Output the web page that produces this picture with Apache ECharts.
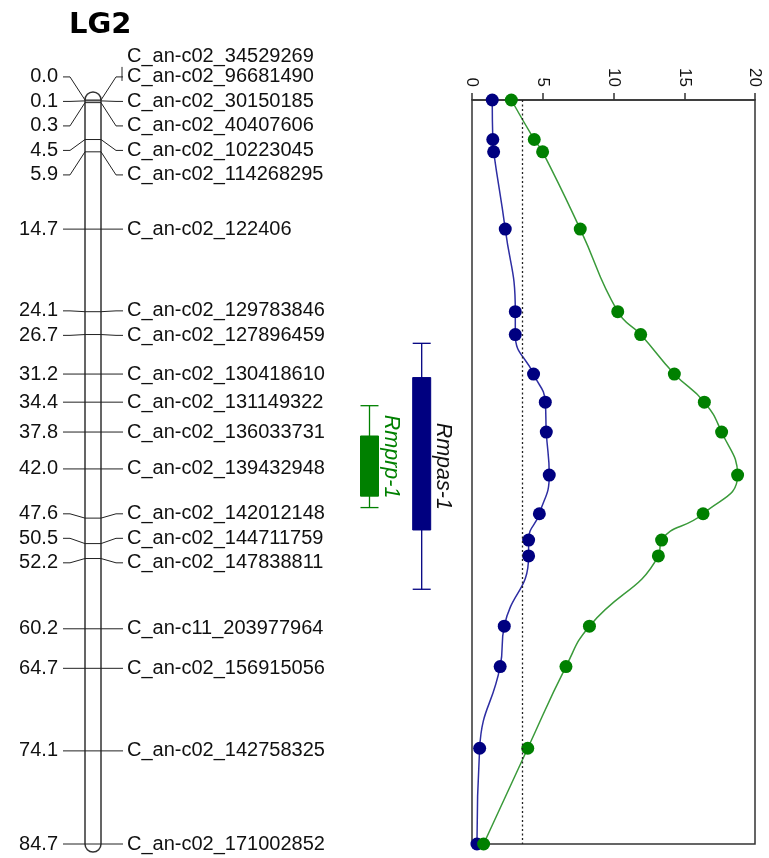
<!DOCTYPE html>
<html><head><meta charset="utf-8">
<script src="https://cdn.jsdelivr.net/npm/echarts@6/dist/echarts.min.js"></script>
<style>html,body{margin:0;padding:0;background:#fff}#c{width:769px;height:858px}</style>
</head><body><div id="c"></div>
<script>
// ---------- data ----------
const lgName = 'LG2';
const markerPos = [0.0, 0.0, 0.1, 0.3, 4.5, 5.9, 14.7, 24.1, 26.7, 31.2, 34.4, 37.8, 42.0, 47.6, 50.5, 52.2, 60.2, 64.7, 74.1, 84.7];
const markerNames = ['C_an-c02_34529269','C_an-c02_96681490','C_an-c02_30150185','C_an-c02_40407606','C_an-c02_10223045','C_an-c02_114268295','C_an-c02_122406','C_an-c02_129783846','C_an-c02_127896459','C_an-c02_130418610','C_an-c02_131149322','C_an-c02_136033731','C_an-c02_139432948','C_an-c02_142012148','C_an-c02_144711759','C_an-c02_147838811','C_an-c11_203977964','C_an-c02_156915056','C_an-c02_142758325','C_an-c02_171002852'];
const lodPos   = [0, 4.5, 5.9, 14.7, 24.1, 26.7, 31.2, 34.4, 37.8, 42.7, 47.1, 50.1, 51.9, 59.9, 64.5, 73.8, 84.7];
const lodRmpas = [1.43, 1.47, 1.53, 2.35, 3.06, 3.06, 4.35, 5.18, 5.25, 5.46, 4.76, 4.00, 4.00, 2.28, 1.99, 0.54, 0.35];
const lodRmprp = [2.78, 4.40, 4.99, 7.65, 10.30, 11.92, 14.30, 16.42, 17.64, 18.77, 16.33, 13.40, 13.17, 8.30, 6.64, 3.94, 0.82];
const lodThreshold = 3.55;
const lodTicks = [0, 5, 10, 15, 20];
const qtlNames  = ['Rmprp-1', 'Rmpas-1'];
const qtlCiLow  = [34.8, 27.7];
const qtlBoxLow = [38.25, 31.6];
const qtlBoxHigh= [45.1, 48.95];
const qtlCiHigh = [46.4, 55.7];

// ---------- styles / layout ----------
const qtlFill = ['#008000', '#000080'];
const qtlText = ['#008000', '#111111'];
const qtlColX = [369.5, 421.7];
const FONT = '"Liberation Sans", Arial, sans-serif';
const mapMin = Math.min(...markerPos), mapMax = Math.max(...markerPos);
const pxPerCM = (844 - 100) / (mapMax - mapMin);
const GAP = 24.5 / pxPerCM;

// group markers by position
const groups = [];
markerPos.forEach((p, i) => {
  const last = groups[groups.length - 1];
  if (last && last.pos === p) last.names.push(markerNames[i]);
  else groups.push({pos: p, names: [markerNames[i]]});
});
function spread(pos, gap) {
  const cl = [];
  for (const p of pos) {
    cl.push({orig: [p], start: p});
    while (cl.length > 1) {
      const b = cl[cl.length - 1], a = cl[cl.length - 2];
      const aEnd = a.start + (a.orig.length - 1) * gap;
      if (b.start < aEnd + gap - 1e-9) {
        const orig = a.orig.concat(b.orig);
        const center = (orig[0] + orig[orig.length - 1]) / 2;
        cl.pop(); cl.pop();
        cl.push({orig, start: center - (orig.length - 1) * gap / 2});
      } else break;
    }
  }
  const out = [];
  cl.forEach(c => c.orig.forEach((_, k) => out.push(c.start + k * gap)));
  return out;
}
const labelPos = spread(groups.map(g => g.pos), GAP);
groups.forEach((g, i) => g.labelPos = labelPos[i]);

const chart = echarts.init(document.getElementById('c'), null, {renderer: 'canvas'});
const option = {
  animation: false,
  backgroundColor: '#fff',
  title: {
    text: lgName, left: 64, top: 6,
    textStyle: {fontFamily: '"DejaVu Sans", Verdana, sans-serif', fontWeight: 'bold', fontSize: 29, color: '#000'}
  },
  grid: [
    {left: 472, right: 14, top: 100, bottom: 14, show: true, borderColor: '#333', borderWidth: 1.5, backgroundColor: 'transparent'},
    {left: 0, width: 470, top: 100, bottom: 14, show: false}
  ],
  xAxis: [
    {type: 'value', gridIndex: 0, position: 'top', min: lodTicks[0], max: lodTicks[lodTicks.length - 1], interval: 5,
     axisLine: {show: true, lineStyle: {color: '#333', width: 1.5}},
     axisTick: {show: true, length: 7, lineStyle: {color: '#333', width: 1.5}},
     axisLabel: {rotate: -90, margin: 13, fontFamily: FONT, fontSize: 17, color: '#111'},
     splitLine: {show: false}},
    {type: 'value', gridIndex: 1, min: 0, max: 470, show: false}
  ],
  yAxis: [
    {type: 'value', gridIndex: 0, inverse: true, min: mapMin, max: mapMax, show: false},
    {type: 'value', gridIndex: 1, inverse: true, min: mapMin, max: mapMax, show: false}
  ],
  series: [
    {
      type: 'line', name: 'Rmpas-1', xAxisIndex: 0, yAxisIndex: 0,
      data: lodPos.map((p, i) => [lodRmpas[i], p]),
      smooth: 0.5, symbol: 'circle', symbolSize: 13,
      itemStyle: {color: '#000080'}, lineStyle: {color: '#2e2ea3', width: 1.5}, z: 3,
      markLine: {silent: true, symbol: 'none', label: {show: false},
        lineStyle: {type: [2, 2.5], color: '#222', width: 1.3},
        data: [{xAxis: lodThreshold}]}
    },
    {
      type: 'line', name: 'Rmprp-1', xAxisIndex: 0, yAxisIndex: 0,
      data: lodPos.map((p, i) => [lodRmprp[i], p]),
      smooth: 0.5, symbol: 'circle', symbolSize: 13,
      itemStyle: {color: '#008000'}, lineStyle: {color: '#3a9a3a', width: 1.5}, z: 3
    },
    {
      type: 'custom', xAxisIndex: 1, yAxisIndex: 1, z: 1,
      data: [[mapMin, mapMax]],
      renderItem(params, api) {
        const y0 = api.coord([0, api.value(0)])[1];
        const y1 = api.coord([0, api.value(1)])[1];
        const x0 = api.coord([85, 0])[0];
        return {type: 'rect', shape: {x: x0, y: y0 - 8, width: 16, height: y1 - y0 + 16, r: 8},
          style: {fill: '#fff', stroke: '#333', lineWidth: 1.5}};
      }
    },
    {
      type: 'custom', xAxisIndex: 1, yAxisIndex: 1, z: 2,
      data: groups.map(g => [g.pos, g.labelPos]),
      renderItem(params, api) {
        const g = groups[params.dataIndex];
        const my = api.coord([0, api.value(0)])[1];
        const ly = api.coord([0, api.value(1)])[1];
        const children = [{
          type: 'polyline',
          shape: {points: [[63, ly], [70, ly], [85, my], [101, my], [116, ly], [123, ly]]},
          style: {stroke: '#222', lineWidth: 1, fill: null}
        }, {
          type: 'text', style: {x: 58, y: ly, text: g.pos.toFixed(1), textAlign: 'right', textVerticalAlign: 'middle',
            font: '20px ' + FONT, fill: '#111'}
        }];
        const n = g.names.length;
        g.names.forEach((nm, k) => {
          children.push({type: 'text', style: {x: 127, y: ly - (n - 1 - k) * 20, text: nm, textAlign: 'left',
            textVerticalAlign: 'middle', font: '20px ' + FONT, fill: '#111'}});
        });
        if (n > 1) {
          children.push({type: 'line', shape: {x1: 122, y1: ly - 10 - (n - 2) * 20, x2: 122, y2: ly + 4},
            style: {stroke: '#222', lineWidth: 1}});
        }
        return {type: 'group', children};
      }
    },
    {
      type: 'custom', xAxisIndex: 1, yAxisIndex: 1, z: 2,
      data: qtlNames.map((n, i) => [i, qtlCiLow[i], qtlBoxLow[i], qtlBoxHigh[i], qtlCiHigh[i]]),
      renderItem(params, api) {
        const i = api.value(0);
        const cx = qtlColX[i], w = 18;
        const y = v => api.coord([0, v])[1];
        const a = y(api.value(1)), b = y(api.value(2)), c = y(api.value(3)), d = y(api.value(4));
        const col = qtlFill[i];
        const ls = {stroke: col, lineWidth: 1.3};
        return {type: 'group', children: [
          {type: 'line', shape: {x1: cx, y1: a, x2: cx, y2: d}, style: ls},
          {type: 'line', shape: {x1: cx - w / 2, y1: a, x2: cx + w / 2, y2: a}, style: ls},
          {type: 'line', shape: {x1: cx - w / 2, y1: d, x2: cx + w / 2, y2: d}, style: ls},
          {type: 'rect', shape: {x: cx - w / 2, y: b, width: w, height: c - b}, style: {fill: col, stroke: col, lineWidth: 1}},
          {type: 'text', x: cx + w / 2 + 12.5, y: (a + d) / 2, rotation: -Math.PI / 2,
            style: {x: 0, y: 0, text: qtlNames[i], textAlign: 'center', textVerticalAlign: 'middle',
              font: 'italic 21.5px ' + FONT, fill: qtlText[i]}}
        ]};
      }
    }
  ]
};
chart.setOption(option);
</script>
</body></html>
